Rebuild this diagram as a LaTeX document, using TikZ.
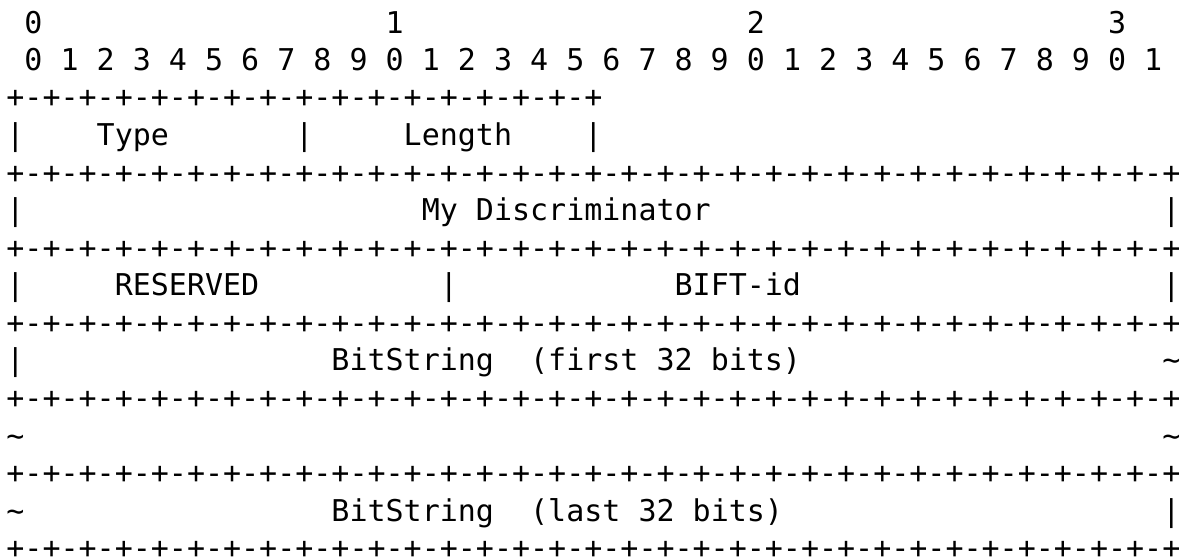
\documentclass[tikz,border=0pt]{standalone}
\usepackage{fontspec}
\setmonofont{DejaVu Sans Mono}
\usepackage{tikz}

\def\cw{18.06}
\def\sep{+-+-+-+-+-+-+-+-+-+-+-+-+-+-+-+-+-+-+-+-+-+-+-+-+-+-+-+-+-+-+-+-+}

\begin{document}
\begin{tikzpicture}[x=0.5pt,y=-0.5pt,
	txt/.style={anchor=base west, inner sep=0pt, text depth=0pt, font=\ttfamily\fontsize{15}{15}\selectfont}]
\fill[white] (0,0) rectangle (1186,560);
\useasboundingbox (0,0) rectangle (1186,560);
% bit numbers
\node [txt] (n0) at (6+1*\cw, 33.5) {0};
\node [txt] (n1) at (6+21*\cw, 33.5) {1};
\node [txt] (n2) at (6+41*\cw, 33.5) {2};
\node [txt] (n3) at (6+61*\cw, 33.5) {3};
\node [txt] (bits) at (6+1*\cw, 70.4) {0 1 2 3 4 5 6 7 8 9 0 1 2 3 4 5 6 7 8 9 0 1 2 3 4 5 6 7 8 9 0 1};
% type and length
\node [txt] (top) at (6, 107.9) {+-+-+-+-+-+-+-+-+-+-+-+-+-+-+-+-+};
\node [txt] (l4a) at (6, 145.5) {|};
\node [txt] (type) at (6+5*\cw, 145.5) {Type};
\node [txt] (l4b) at (6+16*\cw, 145.5) {|};
\node [txt] (len) at (6+22*\cw, 145.5) {Length};
\node [txt] (l4c) at (6+32*\cw, 145.5) {|};
% full rows
\foreach \y [count=\i] in {183.1,258.2,333.4,408.5,483.6,558.8}
	\node [txt] (sep\i) at (6, \y) {\sep};
\node [txt] (l6a) at (6, 220.7) {|};
\node [txt] (disc) at (6+23*\cw, 220.7) {My Discriminator};
\node [txt] (l6b) at (6+64*\cw, 220.7) {|};
\node [txt] (l8a) at (6, 295.8) {|};
\node [txt] (res) at (6+6*\cw, 295.8) {RESERVED};
\node [txt] (l8b) at (6+24*\cw, 295.8) {|};
\node [txt] (bift) at (6+37*\cw, 295.8) {BIFT-id};
\node [txt] (l8c) at (6+64*\cw, 295.8) {|};
\node [txt] (l10a) at (6, 370.9) {|};
\node [txt] (first) at (6+18*\cw, 370.9) {BitString\ \ (first 32 bits)};
\node [txt] (l10b) at (6+64*\cw, 370.9) {\textasciitilde};
\node [txt] (l12a) at (6, 446.1) {\textasciitilde};
\node [txt] (l12b) at (6+64*\cw, 446.1) {\textasciitilde};
\node [txt] (l14a) at (6, 521.2) {\textasciitilde};
\node [txt] (last) at (6+18*\cw, 521.2) {BitString\ \ (last 32 bits)};
\node [txt] (l14b) at (6+64*\cw, 521.2) {|};
\end{tikzpicture}
\end{document}
